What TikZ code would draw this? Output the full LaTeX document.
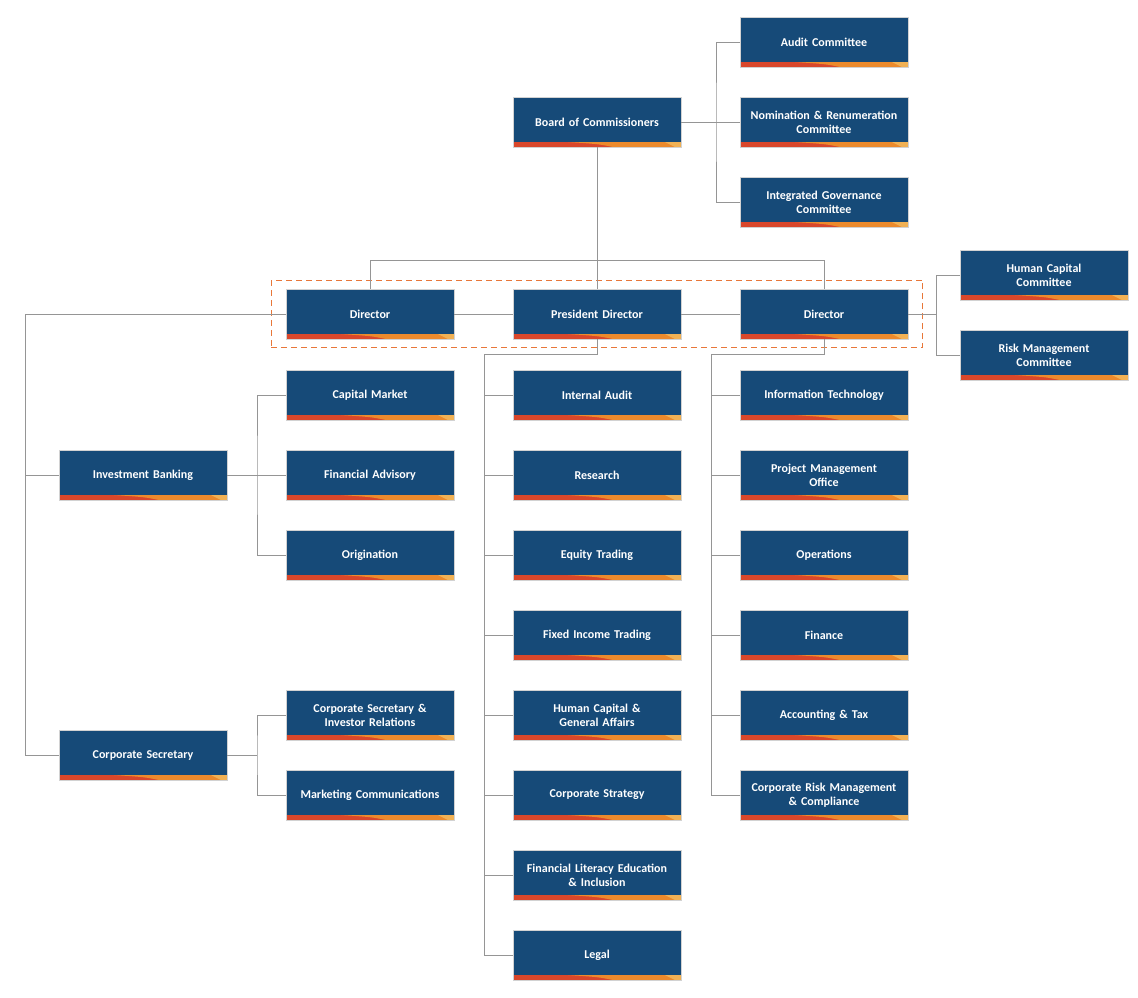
\documentclass[tikz,border=0pt]{standalone}
\usepackage{fontspec}
\setmainfont{Carlito}
\usetikzlibrary{positioning,fit,calc}
\definecolor{navy}{HTML}{164A78}
\definecolor{stripered}{HTML}{D9472B}
\definecolor{stripeorange}{HTML}{EC8A2C}
\definecolor{stripelight}{HTML}{F1B154}
\definecolor{linkgray}{HTML}{959595}
\definecolor{dashorange}{HTML}{E8773A}

\tikzset{
  unit/.style={fill=navy, draw=gray!35, line width=0.5pt, text=white,
    minimum width=168pt, minimum height=50pt, text width=164pt, inner sep=0pt,
    align=center, font=\bfseries\fontsize{12}{14}\selectfont,
    path picture={
      \fill[stripered] (path picture bounding box.south west) rectangle ([yshift=5pt]path picture bounding box.south east);
      \fill[stripeorange] ([xshift=55pt,yshift=5pt]path picture bounding box.south west)
        .. controls ([xshift=85pt,yshift=3pt]path picture bounding box.south west) .. ([xshift=100pt]path picture bounding box.south west)
        -- (path picture bounding box.south east) -- ([yshift=5pt]path picture bounding box.south east) -- cycle;
      \fill[stripelight] ([xshift=-16pt,yshift=5pt]path picture bounding box.south east)
        -- ([xshift=-6pt]path picture bounding box.south east) -- (path picture bounding box.south east)
        -- ([yshift=5pt]path picture bounding box.south east) -- cycle;
    }},
  link/.style={draw=linkgray, line width=1pt},
  group/.style={draw=dashorange, line width=1pt, dash pattern=on 6pt off 4pt, inner xsep=14.5pt, inner ysep=8.5pt}
}

\begin{document}
\begin{tikzpicture}[x=1pt, y=-1pt]
    \useasboundingbox (0,0) rectangle (1138,997);

    % Board and its committees
    \node[unit] (board) at (597,122) {Board of Commissioners};
    \node[unit] (audit) at (824,42) {Audit Committee};
    \node[unit] (nomin) at (824,122) {Nomination \& Renumeration\\Committee};
    \node[unit] (integ) at (824,202) {Integrated Governance\\Committee};

    % Directors
    \node[unit] (dirL) at (370,314) {Director};
    \node[unit] (pres) at (597,314) {President Director};
    \node[unit] (dirR) at (824,314) {Director};
    \node[group, fit=(dirL)(dirR)] (board-dir) {};
    \node[unit] (hcc) at (1044,275) {Human Capital\\Committee};
    \node[unit] (rmc) at (1044,355) {Risk Management\\Committee};

    % Left branch
    \node[unit] (ib) at (143,475) {Investment Banking};
    \node[unit] (cs) at (143,755) {Corporate Secretary};
    \node[unit] (cm) at (370,395) {Capital Market};
    \node[unit] (fa) at (370,475) {Financial Advisory};
    \node[unit] (orig) at (370,555) {Origination};
    \node[unit] (csir) at (370,715) {Corporate Secretary \&\\Investor Relations};
    \node[unit] (mc) at (370,795) {Marketing Communications};

    % President Director branch
    \node[unit] (ia) at (597,395) {Internal Audit};
    \node[unit] (res) at (597,475) {Research};
    \node[unit] (eqt) at (597,555) {Equity Trading};
    \node[unit] (fit) at (597,635) {Fixed Income Trading};
    \node[unit] (hcga) at (597,715) {Human Capital \&\\General Affairs};
    \node[unit] (cstr) at (597,795) {Corporate Strategy};
    \node[unit] (flei) at (597,875) {Financial Literacy Education\\\& Inclusion};
    \node[unit] (legal) at (597,955) {Legal};

    % Right branch
    \node[unit] (it) at (824,395) {Information Technology};
    \node[unit] (pmo) at (824,475) {Project Management\\Office};
    \node[unit] (ops) at (824,555) {Operations};
    \node[unit] (fin) at (824,635) {Finance};
    \node[unit] (acct) at (824,715) {Accounting \& Tax};
    \node[unit] (crmc) at (824,795) {Corporate Risk Management\\\& Compliance};

    % Junctions
    \coordinate (bj) at (716,122);
    \coordinate (tj) at (597,260);
    \coordinate (rj) at (936,314);
    \coordinate (lj) at (25,314);
    \coordinate (ibj) at (257,475);
    \coordinate (csj) at (257,755);
    \coordinate (pj) at (484,354);
    \coordinate (dj) at (711,354);

    % Connectors
    \draw[link] (board.east) -- (nomin.west);
    \draw[link] (audit.west) -| (bj) |- (integ.west);
    \draw[link] (board.south) -- (pres.north);
    \draw[link] (dirL.north) -- (dirL.north |- tj) -- (dirR.north |- tj) -- (dirR.north);
    \draw[link] (dirL.east) -- (pres.west);
    \draw[link] (pres.east) -- (dirR.west);
    \draw[link] (dirR.east) -- (rj);
    \draw[link] (hcc.west) -| (rj) |- (rmc.west);
    \draw[link] (dirL.west) -- (lj) |- (cs.west);
    \draw[link] (lj |- ib.west) -- (ib.west);
    \draw[link] (ib.east) -- (fa.west);
    \draw[link] (cm.west) -| (ibj) |- (orig.west);
    \draw[link] (cs.east) -- (csj);
    \draw[link] (csir.west) -| (csj) |- (mc.west);
    \draw[link] (pres.south) |- (pj) |- (legal.west);
    \foreach \n in {ia,res,eqt,fit,hcga,cstr,flei}
      \draw[link] (pj |- \n.west) -- (\n.west);
    \draw[link] (dirR.south) |- (dj) |- (crmc.west);
    \foreach \n in {it,pmo,ops,fin,acct}
      \draw[link] (dj |- \n.west) -- (\n.west);
\end{tikzpicture}
\end{document}
